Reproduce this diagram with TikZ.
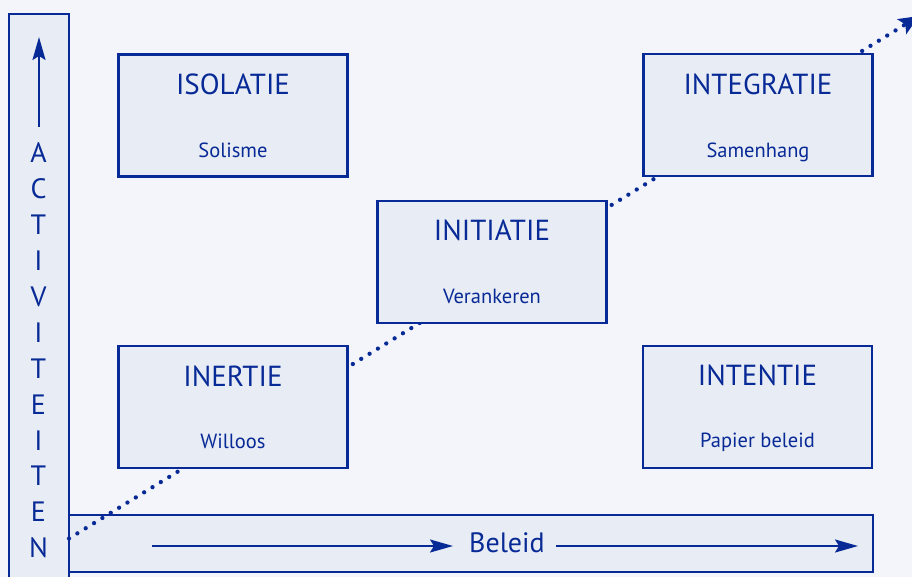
\documentclass[tikz,border=0pt]{standalone}
\usepackage{fontspec}
\setmainfont{PT Sans}
\usetikzlibrary{arrows.meta}
\definecolor{navy}{RGB}{8,42,150}
\definecolor{bgc}{RGB}{243,245,250}
\definecolor{boxc}{RGB}{232,236,245}
\begin{document}
\begin{tikzpicture}[x=1pt,y=-1pt,
  frame/.style={draw=navy, fill=boxc, line width=2.3pt, inner sep=0pt},
  quad/.style={frame, minimum width=229pt, minimum height=122pt},
  ttl/.style={text=navy, font=\fontsize{29}{30}\selectfont, anchor=base, inner sep=0pt},
  sub/.style={text=navy, font=\fontsize{20.5}{22}\selectfont, anchor=base, inner sep=0pt},
  axislbl/.style={text=navy, font=\fontsize{28}{30}\selectfont, inner sep=0pt},
  axisarrow/.style={draw=navy, line width=1.9pt, -{Stealth[length=23pt,width=13pt,inset=4pt]}},
  trend/.style={draw=navy, line width=4.3pt, line cap=round, dash pattern=on 0pt off 9.8pt,
    -{Stealth[length=20pt,width=17pt,inset=4pt]}}]
\useasboundingbox (0,0) rectangle (912,577);
\clip (0,0) rectangle (912,577);
\fill[bgc] (0,0) rectangle (912,577);

% axis boxes
\node[frame, minimum width=60pt, minimum height=580pt] (vbox) at (39,304) {};
\node[frame, minimum width=804pt, minimum height=57pt] (hbox) at (471,543.5) {};

% trend line
\coordinate (ds) at (69,538.5);
\coordinate (de) at (919,16);
\draw[trend] (ds) -- (de);

% quadrant boxes
\node[quad] (iso) at (233,115.5) {};
\node[quad] (intg) at (758,115) {};
\node[quad] (init) at (492,261.7) {};
\node[quad] (iner) at (233,407) {};
\node[quad] (intn) at (757.5,407) {};

\node[ttl] (isoT) at (233,94.3) {ISOLATIE};
\node[sub] (isoS) at (233,157.3) {Solisme};
\node[ttl] (intgT) at (758,94.3) {INTEGRATIE};
\node[sub] (intgS) at (758,157.3) {Samenhang};
\node[ttl] (initT) at (492,240.7) {INITIATIE};
\node[sub] (initS) at (492,303.3) {Verankeren};
\node[ttl] (inerT) at (233,386) {INERTIE};
\node[sub] (inerS) at (233,448) {Willoos};
\node[ttl] (intnT) at (757.5,385.5) {INTENTIE};
\node[sub] (intnS) at (757.5,447.5) {Papier beleid};

% vertical axis
\coordinate (va1) at (39,127);
\coordinate (va2) at (39,37);
\draw[axisarrow] (va1) -- (va2);
\foreach \ch [count=\i from 0] in {A,C,T,I,V,I,T,E,I,T,E,N}
  \node[axislbl] (l\i) at (38.5,153+35.9*\i) {\ch};

% horizontal axis
\node[axislbl, anchor=base] (bel) at (507,552.3) {Beleid};
\coordinate (ha1) at (152,546);
\coordinate (ha2) at (453,546);
\coordinate (hb1) at (556,546);
\coordinate (hb2) at (858,546);
\draw[axisarrow] (ha1) -- (ha2);
\draw[axisarrow] (hb1) -- (hb2);
\end{tikzpicture}
\end{document}
